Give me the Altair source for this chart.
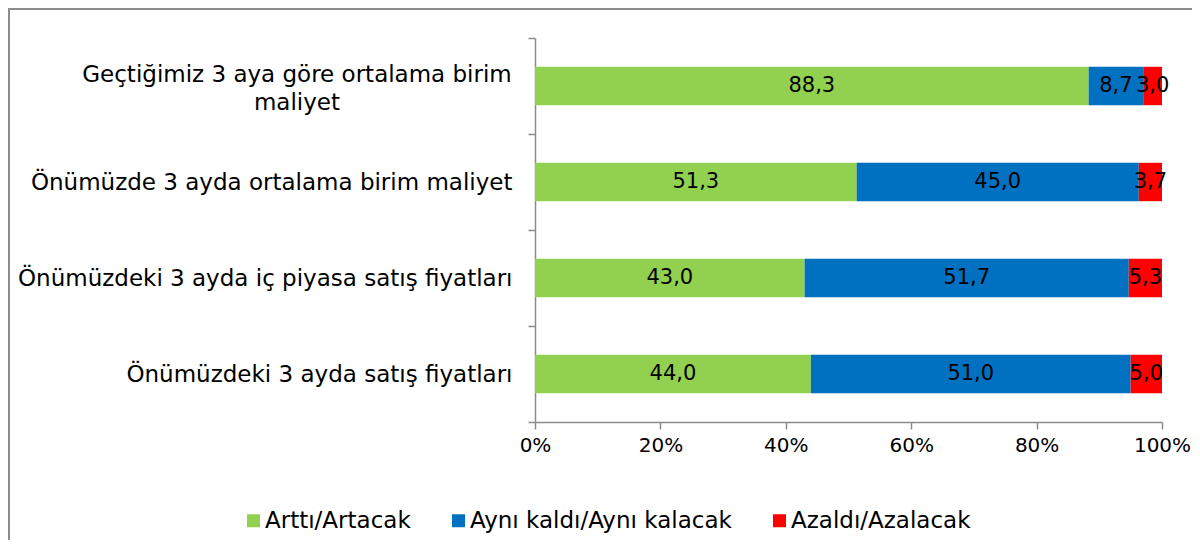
import altair as alt
import pandas as pd

categories = [
    "Geçtiğimiz 3 aya göre ortalama birim maliyet",
    "Önümüzde 3 ayda ortalama birim maliyet",
    "Önümüzdeki 3 ayda iç piyasa satış fiyatları",
    "Önümüzdeki 3 ayda satış fiyatları",
]
series = ["Arttı/Artacak", "Aynı kaldı/Aynı kalacak", "Azaldı/Azalacak"]
artti = [88.3, 51.3, 43.0, 44.0]
ayni = [8.7, 45.0, 51.7, 51.0]
azaldi = [3.0, 3.7, 5.3, 5.0]
colors = ["#92D050", "#0070C0", "#FF0000"]
x_ticks = [0, 20, 40, 60, 80, 100]

rows = []
for si, (s, vals) in enumerate(zip(series, [artti, ayni, azaldi])):
    for c, v in zip(categories, vals):
        rows.append({"category": c, "series": s, "order": si, "value": v})
df = pd.DataFrame(rows)

FONT = "DejaVu Sans"
AX = "#8c8c8c"
WRAPPED = categories[0]

x_axis = alt.Axis(
    values=x_ticks, labelExpr="datum.value + '%'", title=None, grid=False,
    domainColor=AX, domainWidth=1.5, tickColor=AX, tickWidth=1.5, tickSize=7,
    labelFont=FONT, labelFontSize=20, labelColor="black", labelPadding=6,
    labelFlush=False,
)
y_axis = alt.Axis(
    title=None, grid=False, tickBand="extent",
    domainColor=AX, domainWidth=1.5, tickColor=AX, tickWidth=1.5, tickSize=7,
    labelFont=FONT, labelFontSize=23, labelColor="black", labelLimit=0,
    labelExpr="datum.label == '" + WRAPPED + "' ? '' : datum.label",
    labelPadding=16,
)
y_scale = alt.Scale(paddingInner=0, paddingOuter=0)
x_scale = alt.Scale(domain=[0, 100], nice=False)

base = alt.Chart(df).transform_stack(
    stack="value", groupby=["category"], as_=["start", "end"],
    sort=[alt.SortField("order", order="ascending")],
).transform_calculate(
    mid="(datum.start + datum.end) / 2",
    label="replace(format(datum.value, '.1f'), '.', ',')",
)

bars = base.mark_bar(strokeWidth=0, height=alt.RelativeBandSize(0.4)).encode(
    x=alt.X("start:Q", scale=x_scale, axis=x_axis),
    x2="end:Q",
    y=alt.Y("category:N", sort=categories, scale=y_scale, axis=y_axis),
    color=alt.Color(
        "series:N",
        scale=alt.Scale(domain=series, range=colors),
        legend=alt.Legend(
            title=None, orient="none", direction="horizontal",
            legendX=-293, legendY=471, symbolType="square", symbolSize=169,
            symbolStrokeWidth=0, labelFont=FONT, labelFontSize=23,
            labelColor="black", columnPadding=36, labelOffset=0, padding=0,
            labelLimit=0,
        ),
    ),
)

texts = base.mark_text(font=FONT, fontSize=21, color="black").encode(
    x=alt.X("mid:Q", scale=x_scale, axis=x_axis),
    y=alt.Y("category:N", sort=categories, scale=y_scale, axis=y_axis),
    text="label:N",
)

# wrapped, centred category label for the first row (Excel-style)
wrapped_label = base.transform_filter(
    "datum.category == '" + WRAPPED + "' && datum.order == 0"
).transform_calculate(
    ylab="replace(datum.category, ' maliyet', '\\nmaliyet')"
).mark_text(
    font=FONT, fontSize=23, color="black", align="center", baseline="middle",
    lineBreak="\n", lineHeight=28, dy=-11,
).encode(
    x=alt.value(-238),
    y=alt.Y("category:N", sort=categories, scale=y_scale, axis=y_axis),
    text="ylab:N",
)

frame = alt.Chart(alt.Data(values=[{}])).mark_rect(
    fillOpacity=0, stroke="#8c8c8c", strokeWidth=2
).encode(
    x=alt.value(-526), x2=alt.value(2000),
    y=alt.value(-29), y2=alt.value(2000),
)

chart = alt.layer(frame, bars, texts, wrapped_label).properties(
    width=627, height=384,
    padding={"left": 527, "top": 30, "right": 30, "bottom": 118},
    autosize=alt.AutoSizeParams(type="none"),
).configure_view(stroke=None)

chart.save("out.html", embed_options={"renderer": "svg", "actions": False})
